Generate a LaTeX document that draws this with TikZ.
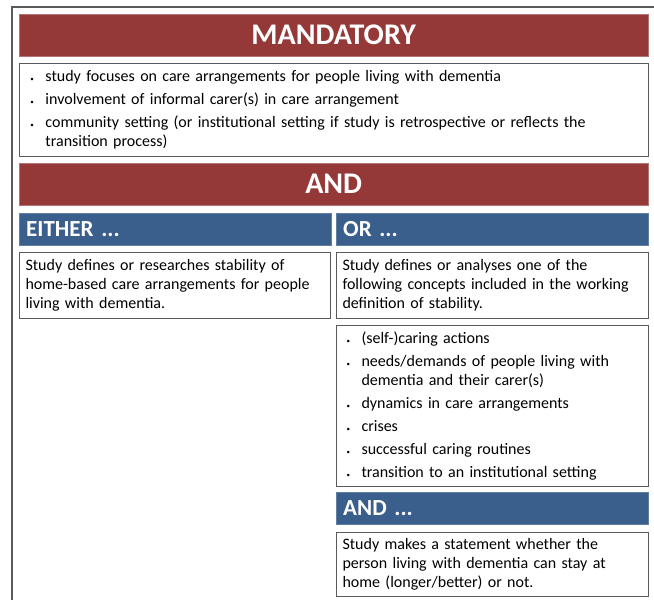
\documentclass[tikz,border=0pt]{standalone}
\usepackage{fontspec}
\setmainfont{Carlito}
\usetikzlibrary{positioning}

\definecolor{barred}{RGB}{149,57,56}
\definecolor{barblue}{RGB}{58,95,140}
\definecolor{boxline}{RGB}{90,90,90}

% bullet line with hanging indent
\newcommand{\bitem}[1]{\hangindent=19pt\hangafter=1\noindent\hspace*{4pt}\makebox[15pt][l]{\scriptsize\textbullet}#1\par}

\tikzset{
  redbar/.style={fill=barred,draw=barred!70!white,text=white,anchor=north west,
    minimum width=629pt,minimum height=42pt,font=\fontsize{30}{34}\selectfont\bfseries},
  bluebar/.style={fill=barblue,draw=barblue!80!white,text=white,anchor=north west,
    minimum width=312pt,minimum height=32pt,text width=298pt,align=left,
    font=\fontsize{23}{26}\selectfont\bfseries},
  txtbox/.style={draw=boxline,line width=1pt,fill=white,anchor=north west,
    align=left,font=\fontsize{16}{19}\selectfont},
}

\begin{document}
\begin{tikzpicture}[x=1pt,y=-1pt]
        \useasboundingbox (0,0) rectangle (654,600);
        % outer frame
        \draw[boxline,line width=1.2pt] (12,600) |- (660,7);

        % top part
        \node[redbar] (mand) at (19,14) {MANDATORY};
        \node[txtbox,minimum width=629pt,minimum height=93pt,text width=615pt] (mandlist) at (19,63) {%
            \parskip=4pt
            \bitem{study focuses on care arrangements for people living with dementia}
            \bitem{involvement of informal carer(s) in care arrangement}
            \bitem{community setting (or institutional setting if study is retrospective or reflects the\newline transition process)}
        };
        \node[redbar] (andbar) at (19,163) {AND};

        % two columns
        \node[bluebar] (either) at (19,213) {EITHER ...};
        \node[bluebar] (orhead) at (336,213) {OR ...};

        \node[txtbox,minimum width=311pt,minimum height=66pt,text width=299pt] (eithertxt) at (19,252) {%
            Study defines or researches stability of\\home-based care arrangements for people\\living with dementia.};
        \node[txtbox,minimum width=312pt,minimum height=66pt,text width=300pt] (ortxt) at (336,252) {%
            Study defines or analyses one of the\\following concepts included in the working\\definition of stability.};

        \node[txtbox,minimum width=312pt,minimum height=161pt,text width=300pt] (orlist) at (336,325) {%
            \parskip=4pt
            \bitem{(self-)caring actions}
            \bitem{needs/demands of people living with\newline dementia and their carer(s)}
            \bitem{dynamics in care arrangements}
            \bitem{crises}
            \bitem{successful caring routines}
            \bitem{transition to an institutional setting}
        };

        \node[bluebar] (andhead) at (336,492) {AND ...};
        \node[txtbox,minimum width=312pt,minimum height=64pt,text width=300pt] (andtxt) at (336,532) {%
            Study makes a statement whether the\\person living with dementia can stay at\\home (longer/better) or not.};
\end{tikzpicture}
\end{document}
